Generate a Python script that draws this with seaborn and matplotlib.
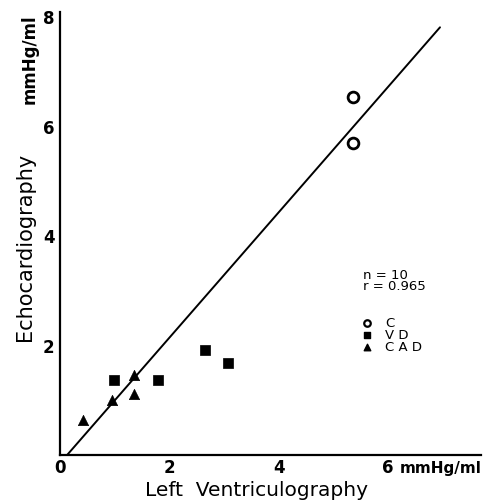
import matplotlib
matplotlib.use("Agg")
import matplotlib.pyplot as plt
import seaborn as sns
import pandas as pd

# Data
groups = ["C", "C", "VD", "VD", "VD", "VD", "CAD", "CAD", "CAD", "CAD"]
lv_values = [5.36, 5.36, 0.99, 1.79, 2.65, 3.07, 0.42, 0.95, 1.35, 1.36]
echo_values = [6.54, 5.70, 1.37, 1.37, 1.92, 1.68, 0.64, 1.00, 1.46, 1.12]
reg_x = [0.13, 6.95]
reg_y = [0.0, 7.82]
x_ticks = [0, 1, 2, 3, 4, 5, 6, 7]
x_tick_labels = ["0", "", "2", "", "4", "", "6", ""]
y_ticks = [0, 1, 2, 3, 4, 5, 6, 7, 8]
y_tick_labels = ["", "", "2", "", "4", "", "6", "", "8"]
stats_text = ["n = 10", "r = 0.965"]
legend_groups = ["C", "VD", "CAD"]

df = pd.DataFrame({"group": groups, "lv": lv_values, "echo": echo_values})

sns.set_style("white")
plt.rcParams["font.family"] = ["DejaVu Sans"]
plt.rcParams["text.color"] = "black"
plt.rcParams["axes.labelcolor"] = "black"

fig = plt.figure(figsize=(4.94, 5.0), dpi=100)
ax = fig.add_axes([60 / 494, 45 / 500, 421 / 494, 443 / 500])

sns.lineplot(x=reg_x, y=reg_y, ax=ax, color="black", linewidth=1.4)

markers = {"C": "o", "VD": "s", "CAD": "^"}
for g in legend_groups:
    sub = df[df.group == g]
    if g == "C":
        sns.scatterplot(data=sub, x="lv", y="echo", ax=ax, marker="o", s=60,
                        facecolor="white", edgecolor="black", linewidth=2.0, zorder=3)
    else:
        sns.scatterplot(data=sub, x="lv", y="echo", ax=ax, marker=markers[g], s=55,
                        color="black", edgecolor="black", linewidth=0.5, zorder=3)

ax.set_xlim(0, 7.7)
ax.set_ylim(0, 8.1)
ax.set_xticks(x_ticks)
ax.set_xticklabels(x_tick_labels, fontsize=12, fontweight="bold")
ax.set_yticks(y_ticks)
ax.set_yticklabels(y_tick_labels, fontsize=12, fontweight="bold")
ax.tick_params(axis="both", direction="in", length=5, width=1.5, pad=4, colors="black")
ax.tick_params(axis="x", pad=3)
for s in ["top", "right"]:
    ax.spines[s].set_visible(False)
for s in ["left", "bottom"]:
    ax.spines[s].set_color("black")
    ax.spines[s].set_linewidth(1.6)
ax.set_xlabel("")
ax.set_ylabel("")

# axis titles
fig.text(256 / 494, 1 - 490 / 500, "Left  Ventriculography", fontsize=14.5,
         ha="center", va="center", color="black")
fig.text(25 / 494, 1 - 247 / 500, "Echocardiography", fontsize=15, rotation=90,
         ha="center", va="center", color="black")
fig.text(30 / 494, 1 - 59 / 500, "mmHg/ml", fontsize=12, fontweight="bold",
         rotation=90, ha="center", va="center", color="black")
fig.text(400 / 494, 1 - 469 / 500, "mmHg/ml", fontsize=11, fontweight="bold",
         ha="left", va="center", color="black")

# annotations
ax.text(5.55, 3.18, stats_text[0] + "\n" + stats_text[1], fontsize=9.5,
        ha="left", va="center", linespacing=0.85, color="black")
leg_y = [2.41, 2.19, 1.97]
for g, yy in zip(legend_groups, leg_y):
    if g == "C":
        ax.scatter([5.61], [yy], marker="o", s=22, facecolor="white",
                   edgecolor="black", linewidth=1.6, zorder=3)
    else:
        ax.scatter([5.61], [yy], marker=markers[g], s=22, color="black", zorder=3)
    ax.text(5.94, yy, " ".join(g), fontsize=9.5, ha="left", va="center", color="black")

fig.savefig("out.png", dpi=100)
